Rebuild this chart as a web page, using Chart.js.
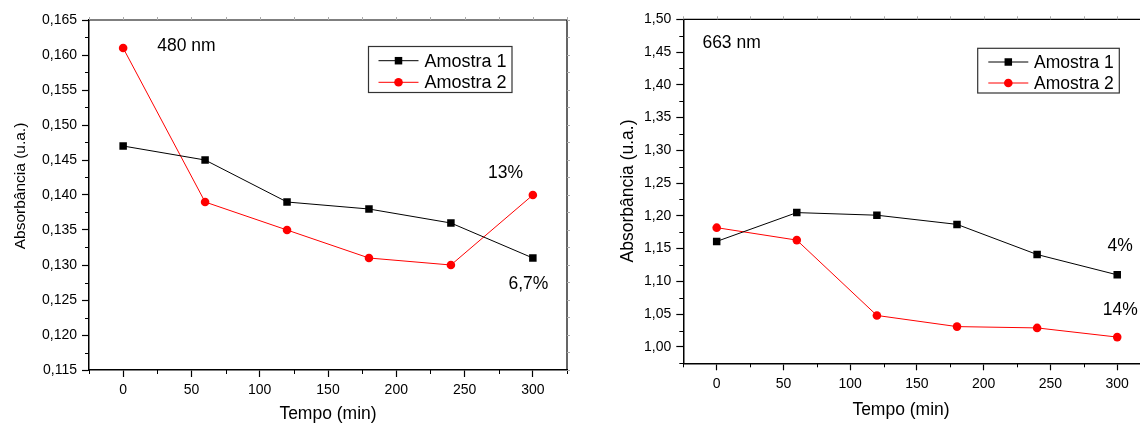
<!DOCTYPE html>
<html>
<head>
<meta charset="utf-8">
<script src="https://cdn.jsdelivr.net/npm/chart.js@4.4.1/dist/chart.umd.min.js"></script>
<style>
  html, body { margin: 0; padding: 0; background: #fff; overflow: hidden; width: 1140px; height: 425px; }
  #c480 { position: absolute; left: 0; top: 0; }
  #c663 { position: absolute; left: 600px; top: 0; }
</style>
</head>
<body>
<canvas id="c480" width="590" height="425"></canvas>
<canvas id="c663" width="560" height="425"></canvas>
<script>
// Sampling times (min)
const tempos = [0, 60, 120, 180, 240, 300];
const seriesNames = ['Amostra 1', 'Amostra 2'];

// Absorbance at 480 nm
const abs480Amostra1 = [0.147, 0.145, 0.139, 0.138, 0.136, 0.131];
const abs480Amostra2 = [0.161, 0.139, 0.135, 0.131, 0.130, 0.140];

// Absorbance at 663 nm
const abs663Amostra1 = [1.161, 1.205, 1.201, 1.187, 1.141, 1.110];
const abs663Amostra2 = [1.182, 1.163, 1.048, 1.031, 1.029, 1.015];

// Major tick values
const xMajorTicks = [0, 50, 100, 150, 200, 250, 300];
const yMajor480 = [0.115, 0.120, 0.125, 0.130, 0.135, 0.140, 0.145, 0.150, 0.155, 0.160, 0.165];
const yMajor663 = [1.00, 1.05, 1.10, 1.15, 1.20, 1.25, 1.30, 1.35, 1.40, 1.45, 1.50];

// Text notes inside each panel
const notes480 = [
  { text: '480 nm', x: 25, y: 0.1613, align: 'left' },
  { text: '13%', x: 280, y: 0.1431, align: 'center' },
  { text: '6,7%', x: 296.7, y: 0.1272, align: 'center' }
];
const notes663 = [
  { text: '663 nm', x: -10.7, y: 1.4634, align: 'left' },
  { text: '4%', x: 302.2, y: 1.1544, align: 'center' },
  { text: '14%', x: 302.3, y: 1.0558, align: 'center' }
];

const FONT = "'Liberation Sans', Arial, sans-serif";

function makePoints(values) {
  return tempos.map((t, i) => ({ x: t, y: values[i] }));
}

// Frame, minor ticks, axis titles, notes and boxed legend
const decorPlugin = {
  id: 'decor',
  afterDraw(chart, args, opts) {
    const ctx = chart.ctx, a = chart.chartArea;
    const xs = chart.scales.x, ys = chart.scales.y;
    ctx.save();

    // top and right frame lines
    ctx.strokeStyle = '#000';
    ctx.lineWidth = 1.2;
    ctx.beginPath();
    ctx.moveTo(a.left, a.top);
    ctx.lineTo(a.right, a.top);
    ctx.lineTo(a.right, a.bottom);
    ctx.stroke();

    const xMaj = xs.ticks.map(t => t.value);
    const yMaj = ys.ticks.map(t => t.value);
    const xStep = xMaj[1] - xMaj[0];
    const yStep = yMaj[1] - yMaj[0];
    const eps = 1e-9;

    // minor ticks on bottom / left axes
    ctx.strokeStyle = '#000';
    ctx.lineWidth = 1;
    ctx.beginPath();
    for (let v = xMaj[0] - xStep / 2; v <= xs.max + eps; v += xStep) {
      if (v < xs.min - eps) continue;
      const px = Math.round(xs.getPixelForValue(v)) + 0.5;
      ctx.moveTo(px, a.bottom);
      ctx.lineTo(px, a.bottom + 4);
    }
    for (let v = yMaj[0] - yStep / 2; v <= ys.max + eps; v += yStep) {
      if (v < ys.min - eps) continue;
      const py = Math.round(ys.getPixelForValue(v)) + 0.5;
      ctx.moveTo(a.left, py);
      ctx.lineTo(a.left - 4, py);
    }
    ctx.stroke();

    // faint ticks on top / right axes
    ctx.strokeStyle = '#aaa';
    ctx.beginPath();
    for (let v = xMaj[0] - xStep / 2; v <= xs.max + eps; v += xStep / 2) {
      if (v < xs.min - eps) continue;
      const px = Math.round(xs.getPixelForValue(v)) + 0.5;
      ctx.moveTo(px, a.top);
      ctx.lineTo(px, a.top - 3);
    }
    for (let v = yMaj[0] - yStep / 2; v <= ys.max + eps; v += yStep / 2) {
      if (v < ys.min - eps) continue;
      const py = Math.round(ys.getPixelForValue(v)) + 0.5;
      ctx.moveTo(a.right, py);
      ctx.lineTo(a.right + 3, py);
    }
    ctx.stroke();

    // axis titles
    ctx.fillStyle = '#000';
    ctx.textAlign = 'center';
    ctx.textBaseline = 'middle';
    ctx.font = opts.xTitle.size + 'px ' + FONT;
    ctx.fillText(opts.xTitle.text, opts.xTitle.cx, opts.xTitle.cy);
    ctx.save();
    ctx.translate(opts.yTitle.cx, opts.yTitle.cy);
    ctx.rotate(-Math.PI / 2);
    ctx.font = opts.yTitle.size + 'px ' + FONT;
    ctx.fillText(opts.yTitle.text, 0, 0);
    ctx.restore();

    // notes placed in data coordinates
    ctx.font = opts.noteSize + 'px ' + FONT;
    opts.notes.forEach(n => {
      ctx.textAlign = n.align;
      ctx.fillText(n.text, xs.getPixelForValue(n.x), ys.getPixelForValue(n.y));
    });

    // boxed legend
    const L = opts.legend;
    ctx.strokeStyle = '#333';
    ctx.lineWidth = 1.2;
    ctx.strokeRect(L.x, L.y, L.w, L.h);
    ctx.font = L.size + 'px ' + FONT;
    ctx.textAlign = 'left';
    chart.data.datasets.forEach((ds, i) => {
      const rowY = L.y + L.rows[i];
      ctx.strokeStyle = ds.borderColor;
      ctx.lineWidth = 1;
      ctx.beginPath();
      ctx.moveTo(L.x + L.lineStart, rowY);
      ctx.lineTo(L.x + L.lineStart + L.lineLen, rowY);
      ctx.stroke();
      const mx = L.x + L.lineStart + L.lineLen / 2;
      ctx.fillStyle = ds.backgroundColor;
      if (ds.pointStyle === 'rect') {
        const s = Math.SQRT1_2 * ds.pointRadius;
        ctx.fillRect(mx - s, rowY - s, 2 * s, 2 * s);
      } else {
        ctx.beginPath();
        ctx.arc(mx, rowY, ds.pointRadius, 0, Math.PI * 2);
        ctx.fill();
      }
      ctx.fillStyle = '#000';
      ctx.fillText(ds.label, L.x + L.textStart, rowY + 1);
    });

    ctx.restore();
  }
};

function buildChart(canvasId, s1, s2, yMajor, yMin, yMax, decimals, geom, decor) {
  const axisSet = (majors) => function (scale) {
    scale.ticks = majors.map(v => ({ value: v }));
  };
  const zeroPad = (size, dim) => function (scale) {
    scale[dim] = size;
    scale.paddingTop = 0; scale.paddingBottom = 0;
    scale.paddingLeft = 0; scale.paddingRight = 0;
  };
  return new Chart(document.getElementById(canvasId), {
    type: 'line',
    data: {
      datasets: [
        {
          label: seriesNames[0],
          data: makePoints(s1),
          borderColor: '#000000',
          backgroundColor: '#000000',
          borderWidth: 1,
          pointStyle: 'rect',
          pointRadius: 5.3,
          pointBorderWidth: 0,
          tension: 0
        },
        {
          label: seriesNames[1],
          data: makePoints(s2),
          borderColor: '#ff0000',
          backgroundColor: '#ff0000',
          borderWidth: 1,
          pointStyle: 'circle',
          pointRadius: 4.3,
          pointBorderWidth: 0,
          tension: 0
        }
      ]
    },
    options: {
      responsive: false,
      animation: false,
      devicePixelRatio: 1,
      layout: { padding: geom.padding },
      plugins: {
        legend: { display: false },
        tooltip: { enabled: false },
        decor: decor
      },
      scales: {
        x: {
          type: 'linear',
          min: -25,
          max: 325,
          afterBuildTicks: axisSet(xMajorTicks),
          afterFit: zeroPad(geom.xHeight, 'height'),
          border: { display: true, color: '#000', width: 1.5 },
          grid: { display: true, drawOnChartArea: false, drawTicks: true, tickLength: 7, tickColor: '#000', tickWidth: 1.2 },
          ticks: {
            padding: 5,
            color: '#000',
            maxRotation: 0,
            autoSkip: false,
            font: { family: FONT, size: 14 },
            callback: v => String(v)
          }
        },
        y: {
          type: 'linear',
          min: yMin,
          max: yMax,
          afterBuildTicks: axisSet(yMajor),
          afterFit: zeroPad(geom.yWidth, 'width'),
          border: { display: true, color: '#000', width: 1.5 },
          grid: { display: true, drawOnChartArea: false, drawTicks: true, tickLength: 7, tickColor: '#000', tickWidth: 1.2 },
          ticks: {
            padding: 5,
            color: '#000',
            autoSkip: false,
            font: { family: FONT, size: 14 },
            callback: v => v.toFixed(decimals).replace('.', ',')
          }
        }
      }
    },
    plugins: [decorPlugin]
  });
}

// 480 nm panel
buildChart('c480', abs480Amostra1, abs480Amostra2, yMajor480, 0.115, 0.165, 3,
  { padding: { left: 0, top: 20, right: 23, bottom: 0 }, yWidth: 89, xHeight: 55 },
  {
    notes: notes480,
    noteSize: 17.5,
    xTitle: { text: 'Tempo (min)', cx: 328, cy: 414, size: 17.5 },
    yTitle: { text: 'Absorbância (u.a.)', cx: 21, cy: 186, size: 15.5 },
    legend: { x: 368.5, y: 46.5, w: 143.5, h: 46, rows: [14.2, 35.8], lineStart: 10, lineLen: 40, textStart: 56, size: 18 }
  });

// 663 nm panel
buildChart('c663', abs663Amostra1, abs663Amostra2, yMajor663, 0.975, 1.50, 2,
  { padding: { left: 0, top: 19.3, right: 9.4, bottom: 0 }, yWidth: 83.3, xHeight: 61.7 },
  {
    notes: notes663,
    noteSize: 17.5,
    xTitle: { text: 'Tempo (min)', cx: 301, cy: 410, size: 17.5 },
    yTitle: { text: 'Absorbância (u.a.)', cx: 28, cy: 191, size: 17.5 },
    legend: { x: 377.7, y: 48.3, w: 141.6, h: 44.7, rows: [13.7, 34.7], lineStart: 10.6, lineLen: 40, textStart: 56.3, size: 17.5 }
  });
</script>
</body>
</html>
